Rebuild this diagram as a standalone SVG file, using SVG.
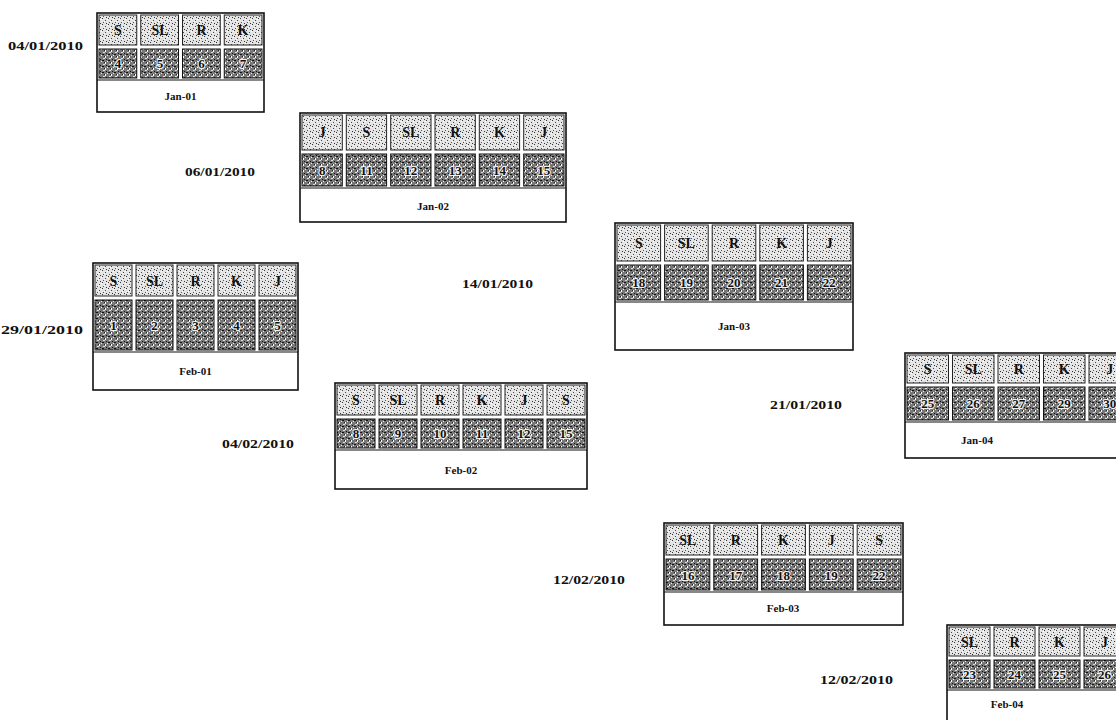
<svg xmlns="http://www.w3.org/2000/svg" width="1116" height="720" viewBox="0 0 1116 720">
<style>
.bg{fill:#ffffff}
.box{fill:#ffffff;stroke:#111;stroke-width:1.6}
.hc{fill:url(#hdr);stroke:#222;stroke-width:1}
.nc{fill:url(#num);stroke:#111;stroke-width:1}
.t{font-family:"Liberation Serif","Times New Roman",serif;font-weight:bold;fill:#111;text-anchor:middle}
.h{font-size:14px}
.n{font-size:13px;stroke:#f2f2f2;stroke-width:2.2px;paint-order:stroke;stroke-linejoin:round}
.lab{font-size:11px}
.d{font-family:"Liberation Serif","Times New Roman",serif;font-weight:bold;font-size:13px;fill:#111}
</style>
<defs>
<pattern id="hdr" width="6" height="6" patternUnits="userSpaceOnUse">
<rect width="6" height="6" fill="#e4e4e4"/>
<rect x="0" y="0" width="1" height="1" fill="#333"/>
<rect x="3" y="2" width="1" height="1" fill="#444"/>
<rect x="1" y="4" width="1" height="1" fill="#555"/>
<rect x="4" y="5" width="1" height="1" fill="#333"/>
<rect x="5" y="1" width="1" height="1" fill="#fff"/>
<rect x="2" y="3" width="1" height="1" fill="#fff"/>
</pattern>
<pattern id="num" width="6" height="6" patternUnits="userSpaceOnUse">
<rect width="6" height="6" fill="#777"/>
<rect x="0" y="0" width="2" height="1" fill="#111"/>
<rect x="3" y="2" width="1" height="2" fill="#fff"/>
<rect x="1" y="4" width="2" height="1" fill="#ddd"/>
<rect x="4" y="5" width="1" height="1" fill="#111"/>
<rect x="5" y="1" width="1" height="1" fill="#eee"/>
<rect x="2" y="2" width="1" height="1" fill="#222"/>
</pattern>
</defs>
<rect class="bg" x="0" y="0" width="1116" height="720"/>
<g id="connectors"></g>

<g id="jan01">
<text class="d" x="8" y="50" textLength="75" lengthAdjust="spacingAndGlyphs">04/01/2010</text>
<rect class="box" x="97" y="13" width="167" height="99"/>
<rect class="hc" x="99" y="15" width="37.75" height="30"/><rect class="hc" x="140.75" y="15" width="37.75" height="30"/><rect class="hc" x="182.5" y="15" width="37.75" height="30"/><rect class="hc" x="224.25" y="15" width="37.75" height="30"/>
<rect class="nc" x="99" y="49" width="37.75" height="29"/><rect class="nc" x="140.75" y="49" width="37.75" height="29"/><rect class="nc" x="182.5" y="49" width="37.75" height="29"/><rect class="nc" x="224.25" y="49" width="37.75" height="29"/>
<line x1="97" y1="80" x2="264" y2="80" stroke="#111" stroke-width="1.2"/>
<text class="t h" x="118" y="35">S</text><text class="t h" x="160" y="35">SL</text><text class="t h" x="201.5" y="35">R</text><text class="t h" x="243" y="35">K</text>
<text class="t n" x="118" y="68">4</text><text class="t n" x="160" y="68">5</text><text class="t n" x="201.5" y="68">6</text><text class="t n" x="243" y="68">7</text>
<text class="t lab" x="180.5" y="100">Jan-01</text>
</g>

<g id="jan02">
<text class="d" x="185" y="176" textLength="70" lengthAdjust="spacingAndGlyphs">06/01/2010</text>
<rect class="box" x="300" y="113" width="266" height="109"/>
<rect class="hc" x="302" y="115" width="40.3" height="35"/><rect class="hc" x="346.3" y="115" width="40.3" height="35"/><rect class="hc" x="390.7" y="115" width="40.3" height="35"/><rect class="hc" x="435" y="115" width="40.3" height="35"/><rect class="hc" x="479.3" y="115" width="40.3" height="35"/><rect class="hc" x="523.7" y="115" width="40.3" height="35"/>
<rect class="nc" x="302" y="154" width="40.3" height="32"/><rect class="nc" x="346.3" y="154" width="40.3" height="32"/><rect class="nc" x="390.7" y="154" width="40.3" height="32"/><rect class="nc" x="435" y="154" width="40.3" height="32"/><rect class="nc" x="479.3" y="154" width="40.3" height="32"/><rect class="nc" x="523.7" y="154" width="40.3" height="32"/>
<line x1="300" y1="188" x2="566" y2="188" stroke="#111" stroke-width="1.2"/>
<text class="t h" x="322.2" y="137">J</text><text class="t h" x="366.5" y="137">S</text><text class="t h" x="410.8" y="137">SL</text><text class="t h" x="455.2" y="137">R</text><text class="t h" x="499.5" y="137">K</text><text class="t h" x="543.8" y="137">J</text>
<text class="t n" x="322.2" y="175">8</text><text class="t n" x="366.5" y="175">11</text><text class="t n" x="410.8" y="175">12</text><text class="t n" x="455.2" y="175">13</text><text class="t n" x="499.5" y="175">14</text><text class="t n" x="543.8" y="175">15</text>
<text class="t lab" x="433" y="210">Jan-02</text>
</g>

<g id="jan03">
<text class="d" x="462" y="288" textLength="71" lengthAdjust="spacingAndGlyphs">14/01/2010</text>
<rect class="box" x="615" y="223" width="238" height="127"/>
<rect class="hc" x="617" y="225" width="43.6" height="36"/><rect class="hc" x="664.6" y="225" width="43.6" height="36"/><rect class="hc" x="712.2" y="225" width="43.6" height="36"/><rect class="hc" x="759.8" y="225" width="43.6" height="36"/><rect class="hc" x="807.4" y="225" width="43.6" height="36"/>
<rect class="nc" x="617" y="265" width="43.6" height="35"/><rect class="nc" x="664.6" y="265" width="43.6" height="35"/><rect class="nc" x="712.2" y="265" width="43.6" height="35"/><rect class="nc" x="759.8" y="265" width="43.6" height="35"/><rect class="nc" x="807.4" y="265" width="43.6" height="35"/>
<line x1="615" y1="302" x2="853" y2="302" stroke="#111" stroke-width="1.2"/>
<text class="t h" x="638.8" y="248">S</text><text class="t h" x="686.4" y="248">SL</text><text class="t h" x="734" y="248">R</text><text class="t h" x="781.6" y="248">K</text><text class="t h" x="829.2" y="248">J</text>
<text class="t n" x="638.8" y="287">18</text><text class="t n" x="686.4" y="287">19</text><text class="t n" x="734" y="287">20</text><text class="t n" x="781.6" y="287">21</text><text class="t n" x="829.2" y="287">22</text>
<text class="t lab" x="734" y="330">Jan-03</text>
</g>

<g id="feb01">
<text class="d" x="1" y="334" textLength="82" lengthAdjust="spacingAndGlyphs">29/01/2010</text>
<rect class="box" x="93" y="263" width="205" height="127"/>
<rect class="hc" x="95" y="265" width="37" height="31"/><rect class="hc" x="136" y="265" width="37" height="31"/><rect class="hc" x="177" y="265" width="37" height="31"/><rect class="hc" x="218" y="265" width="37" height="31"/><rect class="hc" x="259" y="265" width="37" height="31"/>
<rect class="nc" x="95" y="300" width="37" height="50"/><rect class="nc" x="136" y="300" width="37" height="50"/><rect class="nc" x="177" y="300" width="37" height="50"/><rect class="nc" x="218" y="300" width="37" height="50"/><rect class="nc" x="259" y="300" width="37" height="50"/>
<line x1="93" y1="352" x2="298" y2="352" stroke="#111" stroke-width="1.2"/>
<text class="t h" x="113.5" y="286">S</text><text class="t h" x="154.5" y="286">SL</text><text class="t h" x="195.5" y="286">R</text><text class="t h" x="236.5" y="286">K</text><text class="t h" x="277.5" y="286">J</text>
<text class="t n" x="113.5" y="330">1</text><text class="t n" x="154.5" y="330">2</text><text class="t n" x="195.5" y="330">3</text><text class="t n" x="236.5" y="330">4</text><text class="t n" x="277.5" y="330">5</text>
<text class="t lab" x="195.5" y="375">Feb-01</text>
</g>

<g id="feb02">
<text class="d" x="222" y="448" textLength="72" lengthAdjust="spacingAndGlyphs">04/02/2010</text>
<rect class="box" x="335" y="383" width="252" height="106"/>
<rect class="hc" x="337" y="385" width="38" height="30"/><rect class="hc" x="379" y="385" width="38" height="30"/><rect class="hc" x="421" y="385" width="38" height="30"/><rect class="hc" x="463" y="385" width="38" height="30"/><rect class="hc" x="505" y="385" width="38" height="30"/><rect class="hc" x="547" y="385" width="38" height="30"/>
<rect class="nc" x="337" y="419" width="38" height="29"/><rect class="nc" x="379" y="419" width="38" height="29"/><rect class="nc" x="421" y="419" width="38" height="29"/><rect class="nc" x="463" y="419" width="38" height="29"/><rect class="nc" x="505" y="419" width="38" height="29"/><rect class="nc" x="547" y="419" width="38" height="29"/>
<line x1="335" y1="450" x2="587" y2="450" stroke="#111" stroke-width="1.2"/>
<text class="t h" x="356" y="405">S</text><text class="t h" x="398" y="405">SL</text><text class="t h" x="440" y="405">R</text><text class="t h" x="482" y="405">K</text><text class="t h" x="524" y="405">J</text><text class="t h" x="566" y="405">S</text>
<text class="t n" x="356" y="438">8</text><text class="t n" x="398" y="438">9</text><text class="t n" x="440" y="438">10</text><text class="t n" x="482" y="438">11</text><text class="t n" x="524" y="438">12</text><text class="t n" x="566" y="438">15</text>
<text class="t lab" x="461" y="474">Feb-02</text>
</g>

<g id="jan04">
<text class="d" x="770" y="409" textLength="72" lengthAdjust="spacingAndGlyphs">21/01/2010</text>
<rect class="box" x="905" y="353" width="230" height="105"/>
<rect class="hc" x="907" y="355" width="41.5" height="28"/><rect class="hc" x="952.5" y="355" width="41.5" height="28"/><rect class="hc" x="998" y="355" width="41.5" height="28"/><rect class="hc" x="1043.5" y="355" width="41.5" height="28"/><rect class="hc" x="1089" y="355" width="41.5" height="28"/>
<rect class="nc" x="907" y="387" width="41.5" height="33"/><rect class="nc" x="952.5" y="387" width="41.5" height="33"/><rect class="nc" x="998" y="387" width="41.5" height="33"/><rect class="nc" x="1043.5" y="387" width="41.5" height="33"/><rect class="nc" x="1089" y="387" width="41.5" height="33"/>
<line x1="905" y1="422" x2="1116" y2="422" stroke="#111" stroke-width="1.2"/>
<text class="t h" x="927.75" y="374">S</text><text class="t h" x="973.25" y="374">SL</text><text class="t h" x="1018.75" y="374">R</text><text class="t h" x="1064.25" y="374">K</text><text class="t h" x="1109.75" y="374">J</text>
<text class="t n" x="927.75" y="408">25</text><text class="t n" x="973.25" y="408">26</text><text class="t n" x="1018.75" y="408">27</text><text class="t n" x="1064.25" y="408">29</text><text class="t n" x="1109.75" y="408">30</text>
<text class="t lab" x="977" y="444">Jan-04</text>
</g>

<g id="feb03">
<text class="d" x="553" y="584" textLength="72" lengthAdjust="spacingAndGlyphs">12/02/2010</text>
<rect class="box" x="664" y="523" width="239" height="102"/>
<rect class="hc" x="666" y="525" width="43.8" height="30"/><rect class="hc" x="713.8" y="525" width="43.8" height="30"/><rect class="hc" x="761.6" y="525" width="43.8" height="30"/><rect class="hc" x="809.4" y="525" width="43.8" height="30"/><rect class="hc" x="857.2" y="525" width="43.8" height="30"/>
<rect class="nc" x="666" y="559" width="43.8" height="31"/><rect class="nc" x="713.8" y="559" width="43.8" height="31"/><rect class="nc" x="761.6" y="559" width="43.8" height="31"/><rect class="nc" x="809.4" y="559" width="43.8" height="31"/><rect class="nc" x="857.2" y="559" width="43.8" height="31"/>
<line x1="664" y1="592" x2="903" y2="592" stroke="#111" stroke-width="1.2"/>
<text class="t h" x="687.9" y="545">SL</text><text class="t h" x="735.7" y="545">R</text><text class="t h" x="783.5" y="545">K</text><text class="t h" x="831.3" y="545">J</text><text class="t h" x="879.1" y="545">S</text>
<text class="t n" x="687.9" y="580">16</text><text class="t n" x="735.7" y="580">17</text><text class="t n" x="783.5" y="580">18</text><text class="t n" x="831.3" y="580">19</text><text class="t n" x="879.1" y="580">22</text>
<text class="t lab" x="783" y="612">Feb-03</text>
</g>

<g id="feb04">
<text class="d" x="820" y="684" textLength="73" lengthAdjust="spacingAndGlyphs">12/02/2010</text>
<rect class="box" x="947" y="625" width="190" height="100"/>
<rect class="hc" x="949" y="627" width="41" height="29"/><rect class="hc" x="994" y="627" width="41" height="29"/><rect class="hc" x="1039" y="627" width="41" height="29"/><rect class="hc" x="1084" y="627" width="41" height="29"/>
<rect class="nc" x="949" y="660" width="41" height="28"/><rect class="nc" x="994" y="660" width="41" height="28"/><rect class="nc" x="1039" y="660" width="41" height="28"/><rect class="nc" x="1084" y="660" width="41" height="28"/>
<line x1="947" y1="690" x2="1116" y2="690" stroke="#111" stroke-width="1.2"/>
<text class="t h" x="969.5" y="647">SL</text><text class="t h" x="1014.5" y="647">R</text><text class="t h" x="1059.5" y="647">K</text><text class="t h" x="1104.5" y="647">J</text>
<text class="t n" x="969.5" y="679">23</text><text class="t n" x="1014.5" y="679">24</text><text class="t n" x="1059.5" y="679">25</text><text class="t n" x="1104.5" y="679">26</text>
<text class="t lab" x="1007" y="708">Feb-04</text>
</g>
</svg>
